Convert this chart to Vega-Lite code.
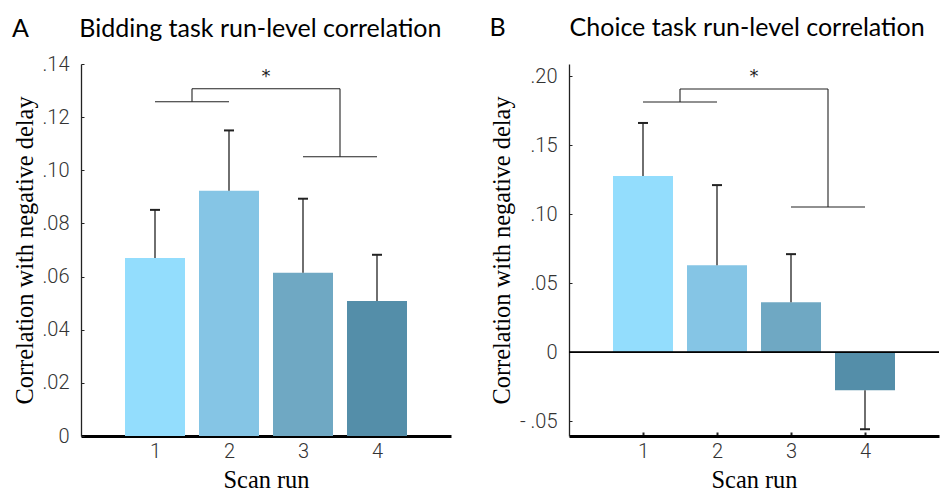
{
  "$schema": "https://vega.github.io/schema/vega-lite/v6.json",
  "padding": {"left": 12, "top": 16, "right": 0, "bottom": 0},
  "spacing": 38,
  "config": {
    "view": {"stroke": null},
    "scale": {"continuousPadding": 0},
    "axis": {
      "labelFont": "Roboto", "labelFontWeight": 300, "labelFontSize": 20, "labelColor": "#333",
      "titleFont": "Liberation Serif", "titleFontWeight": "normal", "titleFontSize": 24.4, "titleColor": "#000",
      "grid": false
    },
    "title": {"font": "Lato", "fontSize": 25, "fontWeight": "normal", "color": "#000", "anchor": "start", "frame": "bounds"}
  },
  "datasets": {
    "bidding": [
      {"run": 1, "mean": 0.0670, "tip": 0.0851},
      {"run": 2, "mean": 0.0923, "tip": 0.1150},
      {"run": 3, "mean": 0.0614, "tip": 0.0893},
      {"run": 4, "mean": 0.0508, "tip": 0.0682}
    ],
    "choice": [
      {"run": 1, "mean": 0.1275, "tip": 0.1660},
      {"run": 2, "mean": 0.0630, "tip": 0.1210},
      {"run": 3, "mean": 0.0362, "tip": 0.0710},
      {"run": 4, "mean": -0.0275, "tip": -0.0558}
    ],
    "bracketsA": [
      {"x": 1, "x2": 2, "y": 0.1258, "y2": 0.1258},
      {"x": 1.5, "x2": 1.5, "y": 0.1258, "y2": 0.1307},
      {"x": 1.5, "x2": 3.5, "y": 0.1307, "y2": 0.1307},
      {"x": 3.5, "x2": 3.5, "y": 0.1307, "y2": 0.1051},
      {"x": 3, "x2": 4, "y": 0.1051, "y2": 0.1051}
    ],
    "bracketsB": [
      {"x": 1, "x2": 2, "y": 0.1812, "y2": 0.1812},
      {"x": 1.5, "x2": 1.5, "y": 0.1812, "y2": 0.1906},
      {"x": 1.5, "x2": 3.5, "y": 0.1906, "y2": 0.1906},
      {"x": 3.5, "x2": 3.5, "y": 0.1906, "y2": 0.1051},
      {"x": 3, "x2": 4, "y": 0.1051, "y2": 0.1051}
    ],
    "starA": [{"x": 2.5, "y": 0.1350, "label": "*"}],
    "starB": [{"x": 2.5, "y": 0.1990, "label": "*"}]
  },
  "hconcat": [
    {
      "width": 370, "height": 372,
      "title": {"text": "A\u00a0\u00a0\u00a0\u00a0\u00a0\u00a0\u00a0\u00a0Bidding task run-level correlation", "offset": 12},
      "layer": [
        {
          "data": {"name": "bidding"},
          "mark": {"type": "bar", "width": 60},
          "encoding": {
            "x": {"field": "run", "type": "quantitative", "scale": {"domain": [0, 5], "nice": false, "zero": false, "padding": 0},
              "axis": {"values": [1, 2, 3, 4], "format": "d", "title": "Scan run", "domainColor": "#000", "domainWidth": 3, "tickColor": "#222", "tickSize": -4, "tickWidth": 2, "labelPadding": 9, "titlePadding": 7}},
            "y": {"field": "mean", "type": "quantitative", "scale": {"domain": [0, 0.14], "nice": false, "padding": 0},
              "axis": {"values": [0, 0.02, 0.04, 0.06, 0.08, 0.1, 0.12, 0.14], "title": "Correlation with negative delay",
                "labelExpr": "datum.value == 0 ? '0' : (datum.value < 0 ? '- ' : '') + substring(format(abs(datum.value), '.2f'), 1)",
                "domainColor": "#222", "domainWidth": 1.3, "tickColor": "#222", "tickSize": -3, "labelPadding": 15, "titlePadding": 5}},
            "color": {"field": "run", "type": "nominal", "scale": {"range": ["#93ddfd", "#85c5e5", "#6fa8c3", "#548ea9"]}, "legend": null}
          }
        },
        {
          "data": {"name": "bidding"},
          "mark": {"type": "rule", "color": "#333", "strokeWidth": 1.4},
          "encoding": {"x": {"field": "run", "type": "quantitative"}, "y": {"field": "mean", "type": "quantitative"}, "y2": {"field": "tip"}}
        },
        {
          "data": {"name": "bidding"},
          "mark": {"type": "tick", "orient": "horizontal", "size": 10, "thickness": 2, "color": "#222", "opacity": 1},
          "encoding": {"x": {"field": "run", "type": "quantitative"}, "y": {"field": "tip", "type": "quantitative"}}
        },
        {
          "data": {"name": "bracketsA"},
          "mark": {"type": "rule", "color": "#222", "strokeWidth": 1.1},
          "encoding": {"x": {"field": "x", "type": "quantitative"}, "x2": {"field": "x2"}, "y": {"field": "y", "type": "quantitative"}, "y2": {"field": "y2"}}
        },
        {
          "data": {"name": "starA"},
          "mark": {"type": "text", "font": "DejaVu Sans", "fontSize": 18, "color": "#222", "baseline": "middle"},
          "encoding": {"x": {"field": "x", "type": "quantitative"}, "y": {"field": "y", "type": "quantitative"}, "text": {"field": "label"}}
        }
      ]
    },
    {
      "width": 370, "height": 372,
      "title": {"text": "B\u00a0\u00a0\u00a0\u00a0\u00a0\u00a0\u00a0\u00a0\u00a0\u00a0Choice task run-level correlation", "offset": 23},
      "layer": [
        {
          "data": {"name": "choice"},
          "mark": {"type": "bar", "width": 60},
          "encoding": {
            "x": {"field": "run", "type": "quantitative", "scale": {"domain": [0, 5], "nice": false, "zero": false, "padding": 0},
              "axis": {"values": [1, 2, 3, 4], "format": "d", "title": "Scan run", "domainColor": "#000", "domainWidth": 3, "tickColor": "#222", "tickSize": -4, "tickWidth": 2, "labelPadding": 9, "titlePadding": 7}},
            "y": {"field": "mean", "type": "quantitative", "scale": {"domain": [-0.0607, 0.2087], "nice": false, "padding": 0},
              "axis": {"values": [-0.05, 0, 0.05, 0.1, 0.15, 0.2], "title": "Correlation with negative delay",
                "labelExpr": "datum.value == 0 ? '0' : (datum.value < 0 ? '- ' : '') + substring(format(abs(datum.value), '.2f'), 1)",
                "domainColor": "#222", "domainWidth": 1.3, "tickColor": "#222", "tickSize": -3, "labelPadding": 15, "titlePadding": 5}},
            "color": {"field": "run", "type": "nominal", "scale": {"range": ["#93ddfd", "#85c5e5", "#6fa8c3", "#548ea9"]}, "legend": null}
          }
        },
        {
          "data": {"name": "choice"},
          "mark": {"type": "rule", "color": "#000", "strokeWidth": 1},
          "encoding": {"y": {"datum": 0, "type": "quantitative"}}
        },
        {
          "data": {"name": "choice"},
          "mark": {"type": "rule", "color": "#333", "strokeWidth": 1.4},
          "encoding": {"x": {"field": "run", "type": "quantitative"}, "y": {"field": "mean", "type": "quantitative"}, "y2": {"field": "tip"}}
        },
        {
          "data": {"name": "choice"},
          "mark": {"type": "tick", "orient": "horizontal", "size": 10, "thickness": 2, "color": "#222", "opacity": 1},
          "encoding": {"x": {"field": "run", "type": "quantitative"}, "y": {"field": "tip", "type": "quantitative"}}
        },
        {
          "data": {"name": "bracketsB"},
          "mark": {"type": "rule", "color": "#222", "strokeWidth": 1.1},
          "encoding": {"x": {"field": "x", "type": "quantitative"}, "x2": {"field": "x2"}, "y": {"field": "y", "type": "quantitative"}, "y2": {"field": "y2"}}
        },
        {
          "data": {"name": "starB"},
          "mark": {"type": "text", "font": "DejaVu Sans", "fontSize": 18, "color": "#222", "baseline": "middle"},
          "encoding": {"x": {"field": "x", "type": "quantitative"}, "y": {"field": "y", "type": "quantitative"}, "text": {"field": "label"}}
        }
      ]
    }
  ]
}
